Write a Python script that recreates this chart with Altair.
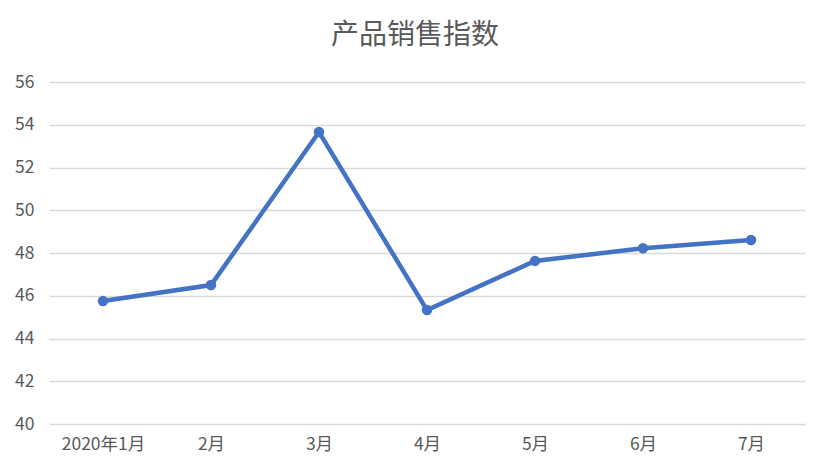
import altair as alt
import pandas as pd

months = ["2020年1月", "2月", "3月", "4月", "5月", "6月", "7月"]
values = [45.75, 46.5, 53.66, 45.33, 47.63, 48.22, 48.61]
y_ticks = [40, 42, 44, 46, 48, 50, 52, 54, 56]

df = pd.DataFrame({"month": months, "value": values})

FONT = "Noto Sans CJK SC"
GRAY = "#595959"
BLUE = "#4472C4"

x = alt.X("month:N", sort=months, title=None,
          scale=alt.Scale(type="point", padding=0.5),
          axis=alt.Axis(labelAngle=0, domain=False, ticks=False, grid=False,
                        labelFont=FONT, labelFontSize=17.5, labelColor=GRAY,
                        labelPadding=11))
y = alt.Y("value:Q", title=None,
          scale=alt.Scale(domain=[40, 56], nice=False, zero=False),
          axis=alt.Axis(values=y_ticks, domain=False, ticks=False,
                        gridColor="#d9d9d9", gridWidth=1.3,
                        labelFont=FONT, labelFontSize=17.5, labelColor=GRAY,
                        labelPadding=15))

base = alt.Chart(df).encode(x=x, y=y)
line = base.mark_line(color=BLUE, strokeWidth=4.5)
pts = base.mark_point(filled=True, color=BLUE, size=110, opacity=1)

chart = (line + pts).properties(
    width=756, height=342,
    background="white",
    title=alt.TitleParams("产品销售指数", font=FONT, fontSize=28, color=GRAY,
                          fontWeight="normal", anchor="middle", dx=-12, offset=23),
    autosize=alt.AutoSizeParams(type="none"),
    padding={"left": 41, "top": 74, "right": 16, "bottom": 36},
).configure_view(strokeWidth=0, stroke="transparent")

chart.save("out.html", embed_options={"renderer": "svg", "actions": False})
